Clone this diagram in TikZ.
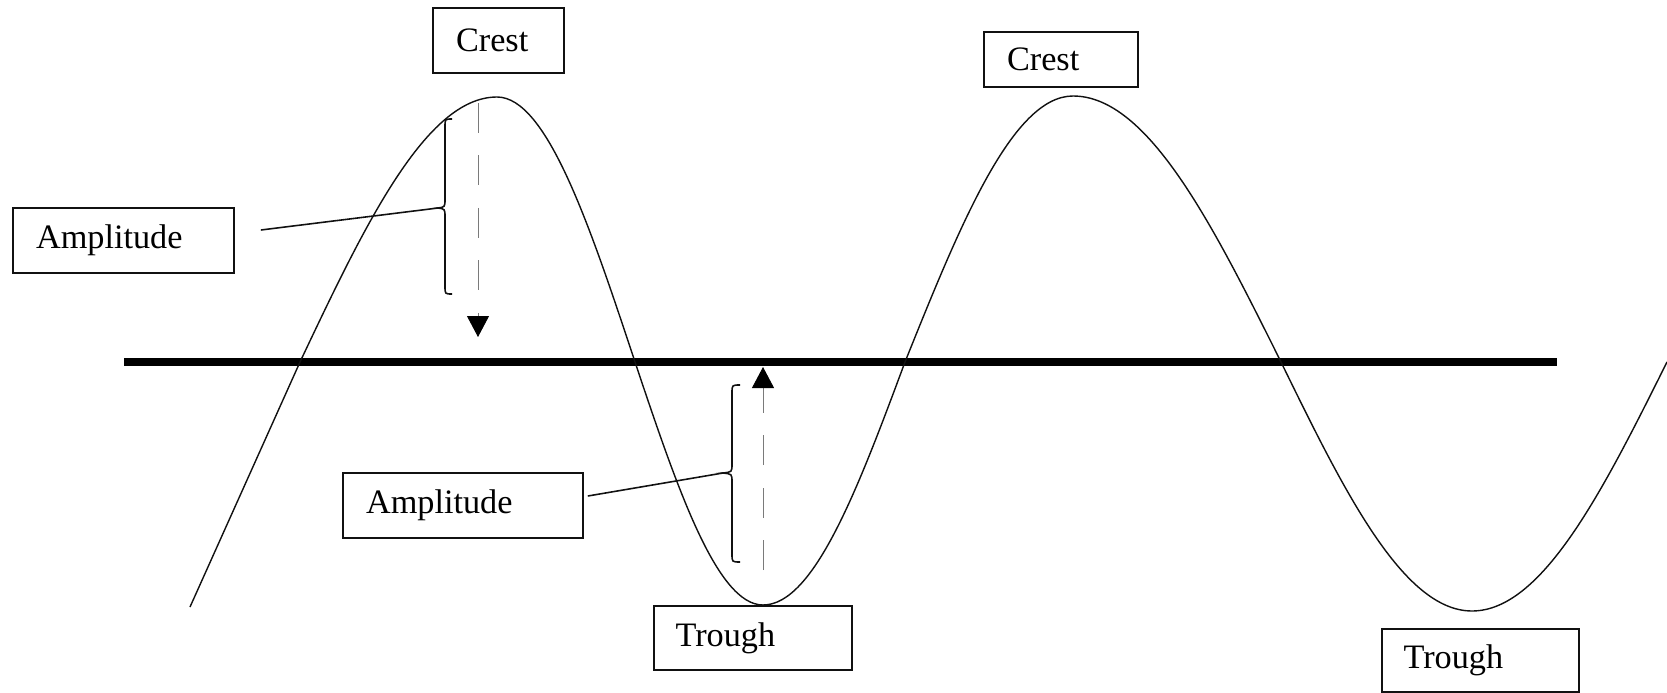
\documentclass[tikz,border=0pt]{standalone}
\usepackage{fontspec}
\setmainfont{Liberation Serif}
\usetikzlibrary{arrows.meta,positioning}
\definecolor{Ink}{HTML}{111111}
\definecolor{Dots}{HTML}{7A7A7A}

\begin{document}
\begin{tikzpicture}[
  x=0.02cm,y=-0.02cm,
  tag/.style={draw=Ink,line width=1pt,inner xsep=0.46cm,inner ysep=0pt,align=left,font=\fontsize{19.5}{22}\selectfont},
  wave/.style={draw=Ink,line width=0.8pt},
  axisline/.style={draw=black,line width=4.6pt},
  brace/.style={draw=Ink,line width=0.9pt},
  lead/.style={draw=Ink,line width=0.9pt},
  amparrow/.style={draw=Dots,line width=0.5pt,dash pattern=on 0.6cm off 0.45cm,-{Triangle[length=0.42cm,width=0.44cm,color=black]}}
]
\useasboundingbox (0,0) rectangle (1667,693);
% labels
\node[tag,text width=1.70cm,minimum height=1.3cm] (crestA) at (498.5,40.5) {Crest};
\node[tag,text width=2.16cm,minimum height=1.1cm] (crestB) at (1061,59.5) {Crest};
\node[tag,text width=3.50cm,minimum height=1.3cm] (ampA) at (123.5,240.5) {Amplitude};
\node[tag,text width=3.88cm,minimum height=1.3cm] (ampB) at (463,505.5) {Amplitude};
\node[tag,text width=3.10cm,minimum height=1.28cm,inner xsep=0.43cm] (troughA) at (753,638) {Trough};
\node[tag,text width=3.08cm,minimum height=1.26cm,inner xsep=0.43cm] (troughB) at (1480.5,660.5) {Trough};
% rest line and wave
\draw[axisline] (124,362) -- (1557,362);
\draw[wave] (190,607) -- (300,362) sin (497,97) cos (635,362) sin (763,605)
  cos (905,362) sin (1073,96) cos (1281,362) sin (1472,611) cos (1667,362);
% braces
\coordinate (tipA) at (438,208);
\coordinate (tipB) at (723,473);
\draw[brace] (452,119) .. controls (445,119) .. (445,127) -- (445,199)
  .. controls (445,207) .. (tipA) .. controls (445,209) .. (445,217)
  -- (445,286) .. controls (445,294) .. (452,294);
\draw[brace] (740,385) .. controls (732,385) .. (732,393) -- (732,464)
  .. controls (732,472) .. (tipB) .. controls (732,474) .. (732,482)
  -- (732,554) .. controls (732,562) .. (740,562);
\draw[lead] ([xshift=0.52cm,yshift=0.21cm]ampA.east) -- (tipA);
\draw[lead] ([xshift=0.08cm,yshift=0.19cm]ampB.east) -- (tipB);
% amplitude arrows
\coordinate (fromA) at (478,103);
\coordinate (toA) at (478,337);
\coordinate (fromB) at (763,570);
\coordinate (toB) at (763,367);
\draw[amparrow] (fromA) -- (toA);
\draw[amparrow] (fromB) -- (toB);
\end{tikzpicture}
\end{document}
